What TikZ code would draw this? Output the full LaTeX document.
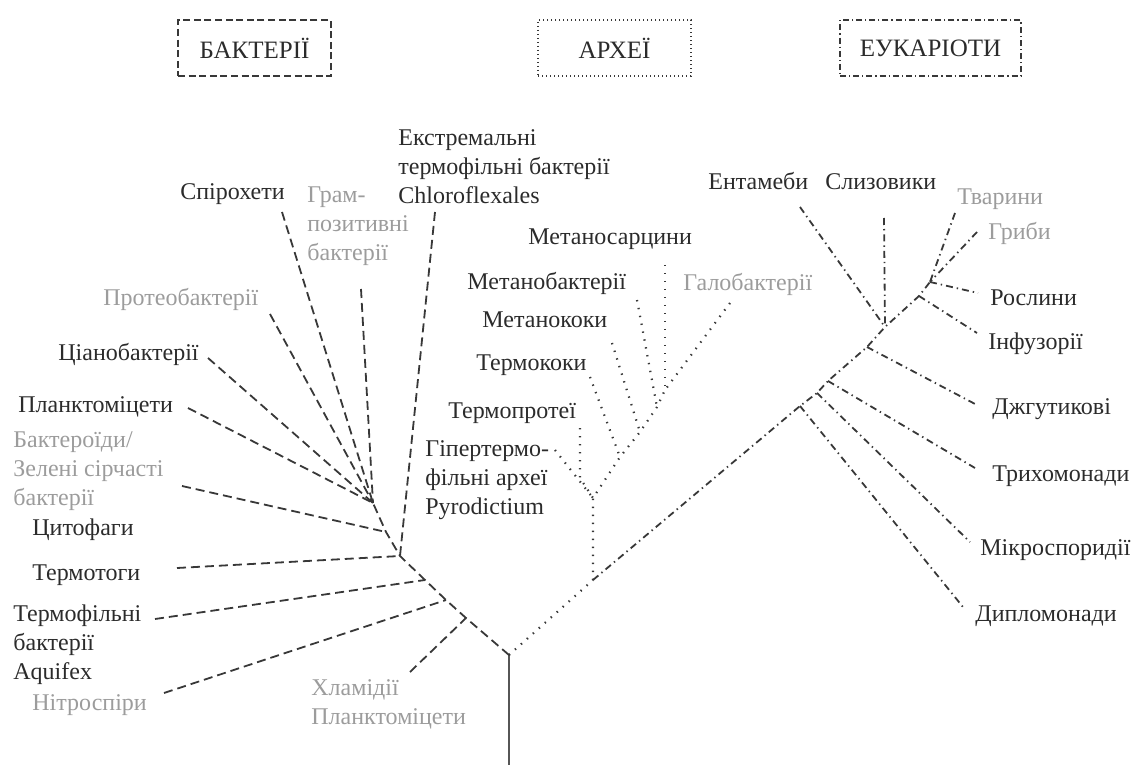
\documentclass[tikz,border=0pt]{standalone}
\usepackage{fontspec}
\setmainfont{Liberation Serif}
\definecolor{inkDark}{HTML}{2B2B2B}
\definecolor{inkGray}{HTML}{9C9C9C}
\definecolor{lineDark}{HTML}{383838}

\begin{document}
\begin{tikzpicture}[x=0.5pt, y=-0.5pt]

% styles of text
\tikzstyle{textLine}=[anchor=base west, inner sep=0pt, text=inkDark, align=left, font=\fontsize{12}{14.5}\selectfont]
\tikzstyle{textGray}=[textLine, text=inkGray]
\tikzstyle{textTitle}=[inner sep=0pt, text=inkDark, minimum height=28pt, font=\fontsize{12.5}{15}\selectfont]

% styles of lines
\tikzstyle{boxBact}=[textTitle, draw=lineDark, line width=0.8pt, dash pattern=on 3.5pt off 1.8pt]
\tikzstyle{boxArch}=[textTitle, draw=lineDark, line width=0.8pt, dash pattern=on 0.6pt off 1.4pt]
\tikzstyle{boxEuk}=[textTitle, draw=lineDark, line width=0.8pt, dash pattern=on 3pt off 1.5pt on 0.6pt off 1.5pt]
\tikzstyle{lineBact}=[line width=0.9pt, color=lineDark, dash pattern=on 4.5pt off 2.5pt]
\tikzstyle{lineArch}=[line width=1.1pt, color=lineDark, dash pattern=on 0.7pt off 3.3pt]
\tikzstyle{lineEuk}=[line width=0.9pt, color=lineDark, dash pattern=on 3.5pt off 2pt on 0.7pt off 2pt]
\tikzstyle{lineRoot}=[line width=1.2pt, color=lineDark!85]

\useasboundingbox (0,0) rectangle (1132,765);

% titles
\node[boxBact, minimum width=76.5pt] (tBact) at (254.5,48) {БАКТЕРІЇ};
\node[boxArch, minimum width=76.5pt] (tArch) at (614.5,48) {АРХЕЇ};
\node[boxEuk, minimum width=90.5pt] (tEuk) at (930.5,48) {ЕУКАРІОТИ};

% root
\coordinate (root) at (509,655);
\coordinate (rootEnd) at (509,765);
\coordinate (base) at (593,580);
\draw[lineRoot] (root) -- (rootEnd);
\draw[lineArch] (root) -- (base);

%%% bacteria
\coordinate (bH2) at (373,503);
\coordinate (bH1) at (386,532);
\coordinate (bH0) at (400,556);
\coordinate (bJ1) at (425,580);
\coordinate (bJ2) at (446,600);
\coordinate (bJ3) at (466,618);

\coordinate (bSpiro) at (282,212);
\coordinate (bGram) at (361,289);
\coordinate (bChloro) at (435,212);
\coordinate (bProteo) at (270,314);
\coordinate (bCyano) at (208,358);
\coordinate (bPlankt) at (188,408);
\coordinate (bBactero) at (182,486);
\coordinate (bTermotog) at (177,568);
\coordinate (bTermofil) at (155,619);
\coordinate (bNitro) at (164,693);
\coordinate (bChlam) at (410,672);

% multi-line texts sit on their last line
\node[textLine] (nSpiro) at (180,200) {Спірохети};
\node[textGray] (nGram) at (307,261) {Грам-\\позитивні\\бактерії};
\node[textLine] (nChloro) at (398,204) {Екстремальні\\термофільні бактерії\\Chloroflexales};
\node[textGray] (nProteo) at (103,306) {Протеобактерії};
\node[textLine] (nCyano) at (58,360) {Ціанобактерії};
\node[textLine] (nPlankt) at (18,413) {Планктоміцети};
\node[textGray] (nBactero) at (13,505) {Бактероїди/\\Зелені сірчасті\\бактерії};
\node[textLine] (nCyto) at (32,535) {Цитофаги};
\node[textLine] (nTermotog) at (32,581) {Термотоги};
\node[textLine] (nTermofil) at (13,679) {Термофільні\\бактерії\\Aquifex};
\node[textGray] (nNitro) at (32,710) {Нітроспіри};
\node[textGray] (nChlam) at (311,724) {Хламідії\\Планктоміцети};

\draw[lineBact] (root) -- (bJ3) -- (bJ2) -- (bJ1) -- (bH0) -- (bH1) -- (bH2);
\draw[lineBact] (bSpiro) -- (bH2);
\draw[lineBact] (bGram) -- (bH2);
\draw[lineBact] (bProteo) -- (bH2);
\draw[lineBact] (bCyano) -- (bH2);
\draw[lineBact] (bPlankt) -- (bH2);
\draw[lineBact] (bBactero) -- (bH1);
\draw[lineBact] (bChloro) -- (bH0);
\draw[lineBact] (bTermotog) -- (bH0);
\draw[lineBact] (bTermofil) -- (bJ1);
\draw[lineBact] (bNitro) -- (bJ2);
\draw[lineBact] (bChlam) -- (bJ3);

%%% archaea
\coordinate (aA1) at (593,498);
\coordinate (aA2) at (620,457);
\coordinate (aA3) at (640,432);
\coordinate (aA4) at (657,407);
\coordinate (aA5) at (665,390);

\coordinate (aHyper) at (555,450);
\coordinate (aTprotTop) at (580,428);
\coordinate (aTprotBot) at (580,478);
\coordinate (aTkok) at (590,377);
\coordinate (aMkok) at (612,343);
\coordinate (aMbakt) at (637,300);
\coordinate (aMsarc) at (665,265);
\coordinate (aGalo) at (730,303);

\node[textLine] (nMsarc) at (528,245) {Метаносарцини};
\node[textLine] (nMbakt) at (467,290) {Метанобактерії};
\node[textLine] (nMkok) at (482,328) {Метанококи};
\node[textLine] (nTkok) at (476,371) {Термококи};
\node[textLine] (nTprot) at (448,418) {Термопротеї};
\node[textLine] (nHyper) at (425,515) {Гіпертермо-\\фільні археї\\Pyrodictium};
\node[textGray] (nGalo) at (683,291) {Галобактерії};

\draw[lineArch] (base) -- (aA1) -- (aA2) -- (aA3) -- (aA4) -- (aA5);
\draw[lineArch] (aHyper) -- (aA1);
\draw[lineArch] (aTprotTop) -- (aTprotBot) -- (aA1);
\draw[lineArch] (aTkok) -- (aA2);
\draw[lineArch] (aMkok) -- (aA3);
\draw[lineArch] (aMbakt) -- (aA4);
\draw[lineArch] (aMsarc) -- (aA5);
\draw[lineArch] (aGalo) -- (aA5);

%%% eukaryotes
\coordinate (eE1) at (800,406);
\coordinate (eE2) at (817,393);
\coordinate (eE3) at (828,381);
\coordinate (eE4) at (867,347);
\coordinate (eE5) at (885,327);
\coordinate (eE6) at (919,296);
\coordinate (eE7) at (930,282);

\coordinate (eEnt) at (800,207);
\coordinate (eSliz) at (884,218);
\coordinate (eTvar) at (955,213);
\coordinate (eGrib) at (977,232);
\coordinate (eRosl) at (978,293);
\coordinate (eInf) at (977,333);
\coordinate (eDzh) at (977,405);
\coordinate (eTrich) at (975,468);
\coordinate (eMikro) at (970,542);
\coordinate (eDiplo) at (963,607);

\node[textLine] (nEnt) at (708,190) {Ентамеби};
\node[textLine] (nSliz) at (825,190) {Слизовики};
\node[textGray] (nTvar) at (957,205) {Тварини};
\node[textGray] (nGrib) at (988,240) {Гриби};
\node[textLine] (nRosl) at (990,306) {Рослини};
\node[textLine] (nInf) at (988,350) {Інфузорії};
\node[textLine] (nDzh) at (992,415) {Джгутикові};
\node[textLine] (nTrich) at (992,481) {Трихомонади};
\node[textLine] (nMikro) at (980,555) {Мікроспоридії};
\node[textLine] (nDiplo) at (975,621) {Дипломонади};

\draw[lineEuk] (base) -- (eE1) -- (eE2) -- (eE3) -- (eE4) -- (eE5) -- (eE6) -- (eE7);
\draw[lineEuk] (eEnt) -- (eE5);
\draw[lineEuk] (eSliz) -- (eE5);
\draw[lineEuk] (eTvar) -- (eE7);
\draw[lineEuk] (eGrib) -- (eE7);
\draw[lineEuk] (eE7) -- (eRosl);
\draw[lineEuk] (eE6) -- (eInf);
\draw[lineEuk] (eE4) -- (eDzh);
\draw[lineEuk] (eE3) -- (eTrich);
\draw[lineEuk] (eE2) -- (eMikro);
\draw[lineEuk] (eE1) -- (eDiplo);

\end{tikzpicture}
\end{document}
